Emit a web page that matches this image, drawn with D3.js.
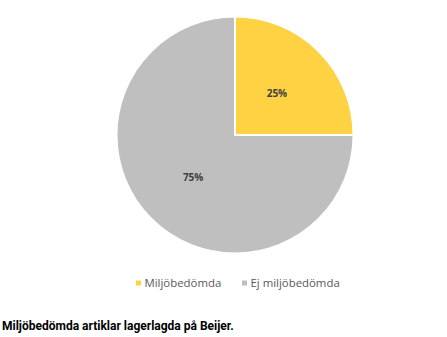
<!DOCTYPE html>
<html>
<head>
<meta charset="utf-8">
<script src="https://cdn.jsdelivr.net/npm/d3@7"></script>
<style>
  body { margin: 0; background: #fff; }
  svg { display: block; }
</style>
</head>
<body>
<script>
  var categories = ["Miljöbedömda", "Ej miljöbedömda"];
  var values = [25, 75];
  var colors = ["#FFD243", "#BFBFBF"];
  var title = "Miljöbedömda artiklar lagerlagda på Beijer.";

  const width = 447, height = 337;
  const cx = 235, cy = 135, radius = 118.5;

  var svg = d3.select("body").append("svg")
      .attr("width", width)
      .attr("height", height);

  var color = d3.scaleOrdinal().domain(categories).range(colors);

  var pie = d3.pie().sort(null).value(function (d) { return d.value; });
  var data = categories.map(function (c, i) { return { name: c, value: values[i] }; });
  var arcs = pie(data);
  var total = d3.sum(values);

  var arc = d3.arc().innerRadius(0).outerRadius(radius);
  var labelArc = d3.arc().innerRadius(radius * 0.5).outerRadius(radius * 0.5);

  var g = svg.append("g").attr("transform", "translate(" + cx + "," + cy + ")");

  g.selectAll("path")
      .data(arcs)
      .enter().append("path")
      .attr("d", arc)
      .attr("fill", function (d) { return color(d.data.name); })
      .attr("stroke", "#fff")
      .attr("stroke-width", 2);

  g.selectAll("text")
      .data(arcs)
      .enter().append("text")
      .attr("transform", function (d) { return "translate(" + labelArc.centroid(d) + ")"; })
      .attr("text-anchor", "middle")
      .attr("dy", "0.4em")
      .attr("font-family", "'Open Sans', sans-serif")
      .attr("font-size", 10)
      .attr("font-weight", "bold")
      .attr("fill", "#404040")
      .text(function (d) { return Math.round(d.data.value / total * 100) + "%"; });

  // legend
  var legendX = [136, 242];
  var legend = svg.append("g")
      .selectAll("g")
      .data(categories)
      .enter().append("g")
      .attr("transform", function (d, i) { return "translate(" + legendX[i] + ",283)"; });

  legend.append("rect")
      .attr("x", 0)
      .attr("y", -2.5)
      .attr("width", 5)
      .attr("height", 5)
      .attr("fill", color);

  legend.append("text")
      .attr("x", 8.5)
      .attr("dy", "0.35em")
      .attr("font-family", "'Open Sans', sans-serif")
      .attr("font-size", 11.4)
      .attr("fill", "#595959")
      .text(function (d) { return d; });

  svg.append("text")
      .attr("x", 2)
      .attr("y", 330)
      .attr("font-family", "Roboto, sans-serif")
      .attr("font-size", 12)
      .attr("font-weight", "bold")
      .attr("fill", "#000")
      .text(title);
</script>
</body>
</html>
